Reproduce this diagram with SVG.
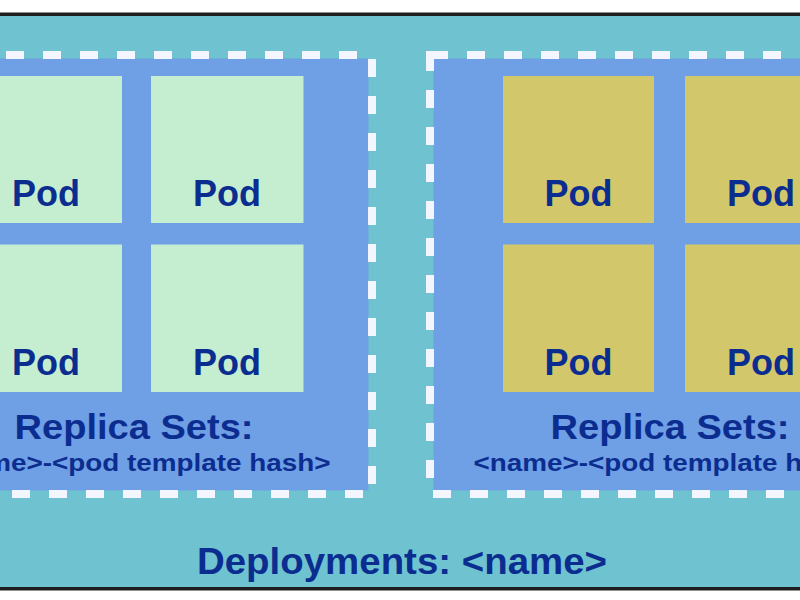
<svg xmlns="http://www.w3.org/2000/svg" width="800" height="600" viewBox="0 0 800 600">
  <style>
    .frame { fill: #1e1e1e; }
    .deploy { fill: #6fc3d0; }
    .rs { fill: #6f9fe4; }
    .rs-border { fill: none; stroke: #f4f6ff; stroke-width: 8; stroke-dasharray: 18 19; }
    .pod-a { fill: #c4eecf; }
    .pod-b { fill: #d2c76a; }
    text { font-family: "Liberation Sans", Arial, Helvetica, sans-serif; font-weight: bold; fill: #0c2d90; text-anchor: middle; }
    .pod-label { font-size: 36px; }
    .rs-label { font-size: 35px; }
    .rs-sub { font-size: 24px; }
    .deploy-label { font-size: 37px; }
  </style>
  <rect x="0" y="0" width="800" height="600" fill="#ffffff"/>

  <g id="deployment">
    <rect class="frame" x="0" y="12.5" width="800" height="3.5"/>
    <rect class="deploy" x="0" y="16" width="800" height="571"/>
    <rect class="frame" x="0" y="587" width="800" height="3.5"/>
    <text class="deploy-label" x="402" y="574" textLength="410" lengthAdjust="spacingAndGlyphs">Deployments: &lt;name&gt;</text>
  </g>

  <g id="replicaset-1">
    <rect class="rs" x="-30" y="58.5" width="398.5" height="432"/>
    <rect class="rs-border" x="-30" y="55" width="402" height="439" stroke-dashoffset="1"/>
    <text class="rs-label" x="134" y="439" textLength="239" lengthAdjust="spacingAndGlyphs">Replica Sets:</text>
    <text class="rs-sub" x="134" y="471" textLength="393" lengthAdjust="spacingAndGlyphs">&lt;name&gt;-&lt;pod template hash&gt;</text>
  </g>

  <g id="replicaset-2">
    <rect class="rs" x="433.5" y="58.5" width="400" height="432"/>
    <rect class="rs-border" x="430" y="55" width="420" height="439"/>
    <text class="rs-label" x="670" y="439" textLength="239" lengthAdjust="spacingAndGlyphs">Replica Sets:</text>
    <text class="rs-sub" x="670" y="471" textLength="393" lengthAdjust="spacingAndGlyphs">&lt;name&gt;-&lt;pod template hash&gt;</text>
  </g>

  <g id="pod-1">
    <rect class="pod-a" x="-30" y="76" width="152" height="147"/>
    <text class="pod-label" x="46" y="206">Pod</text>
  </g>
  <g id="pod-2">
    <rect class="pod-a" x="151" y="76" width="152.5" height="147"/>
    <text class="pod-label" x="227" y="206">Pod</text>
  </g>
  <g id="pod-3">
    <rect class="pod-a" x="-30" y="244.5" width="152" height="147.5"/>
    <text class="pod-label" x="46" y="375">Pod</text>
  </g>
  <g id="pod-4">
    <rect class="pod-a" x="151" y="244.5" width="152.5" height="147.5"/>
    <text class="pod-label" x="227" y="375">Pod</text>
  </g>

  <g id="pod-5">
    <rect class="pod-b" x="503" y="76" width="151" height="147"/>
    <text class="pod-label" x="578.5" y="206">Pod</text>
  </g>
  <g id="pod-6">
    <rect class="pod-b" x="685" y="76" width="152" height="147"/>
    <text class="pod-label" x="761" y="206">Pod</text>
  </g>
  <g id="pod-7">
    <rect class="pod-b" x="503" y="244.5" width="151" height="147.5"/>
    <text class="pod-label" x="578.5" y="375">Pod</text>
  </g>
  <g id="pod-8">
    <rect class="pod-b" x="685" y="244.5" width="152" height="147.5"/>
    <text class="pod-label" x="761" y="375">Pod</text>
  </g>

  <g id="connectors"></g>
</svg>
